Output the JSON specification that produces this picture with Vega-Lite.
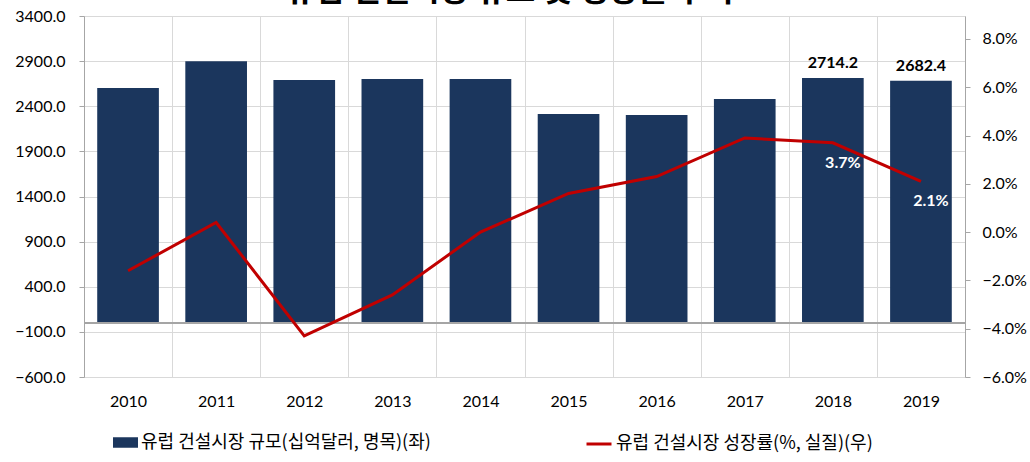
{
  "$schema": "https://vega.github.io/schema/vega-lite/v6.json",
  "width": 881,
  "height": 361,
  "autosize": {"type": "none"},
  "padding": {"left": 84, "top": 16, "right": 65, "bottom": 85},
  "background": "white",
  "title": {"text": "유럽 건설시장 규모 및 성장률 추이", "font": "Noto Sans CJK KR", "fontSize": 32, "fontWeight": "bold", "anchor": "middle", "dx": -15, "offset": 0, "color": "#000000"},
  "config": {
    "view": {"stroke": null},
    "axis": {"labelFont": "Lato", "labelFontSize": 16, "labelColor": "#000000"}
  },
  "data": {
    "values": [
      {"year": "2010", "size": 2602, "growth": -0.016},
      {"year": "2011", "size": 2900, "growth": 0.004},
      {"year": "2012", "size": 2690, "growth": -0.043},
      {"year": "2013", "size": 2702, "growth": -0.026},
      {"year": "2014", "size": 2702, "growth": 0.0},
      {"year": "2015", "size": 2314, "growth": 0.016},
      {"year": "2016", "size": 2303, "growth": 0.023},
      {"year": "2017", "size": 2481, "growth": 0.039},
      {"year": "2018", "size": 2714.2, "growth": 0.037},
      {"year": "2019", "size": 2682.4, "growth": 0.021}
    ]
  },
  "layer": [
    {
      "layer": [
        {
          "mark": {"type": "bar", "width": {"band": 0.7}},
          "encoding": {
            "x": {
              "field": "year", "type": "ordinal",
              "scale": {"paddingInner": 0, "paddingOuter": 0},
              "axis": {"orient": "bottom", "title": null, "labelAngle": 0, "domain": false, "ticks": false, "grid": true, "gridColor": "#d9d9d9", "tickBand": "extent", "labelPadding": 16}
            },
            "y": {
              "field": "size", "type": "quantitative",
              "scale": {"domain": [-600, 3400], "nice": false, "zero": false},
              "axis": {"orient": "left", "title": null, "values": [-600, -100, 400, 900, 1400, 1900, 2400, 2900, 3400], "format": ".1f", "grid": true, "gridColor": "#d9d9d9", "domainColor": "#a6a6a6", "tickColor": "#a6a6a6", "tickSize": 5, "labelPadding": 14}
            },
            "color": {
              "datum": "유럽 건설시장 규모(십억달러, 명목)(좌)",
              "scale": {"range": ["#1b365d"]},
              "legend": {"orient": "none", "legendX": 29, "legendY": 414, "direction": "horizontal", "title": null, "padding": 0, "symbolType": "M-1,-0.42H1V0.42H-1Z", "symbolSize": 625, "symbolStrokeWidth": 0, "labelFont": "Noto Sans CJK KR", "labelFontSize": 18, "labelColor": "#000000", "labelOffset": 3, "labelLimit": 600}
            }
          }
        },
        {
          "mark": {"type": "rule", "color": "#a6a6a6", "strokeWidth": 1},
          "encoding": {"y": {"datum": 0}}
        },
        {
          "transform": [{"filter": {"field": "year", "oneOf": ["2018", "2019"]}}],
          "mark": {"type": "text", "font": "Lato", "fontSize": 16, "fontWeight": "bold", "baseline": "bottom", "dy": -7, "color": "#000000"},
          "encoding": {
            "x": {"field": "year", "type": "ordinal"},
            "y": {"field": "size", "type": "quantitative"},
            "text": {"field": "size", "type": "quantitative", "format": ".1f"}
          }
        }
      ]
    },
    {
      "layer": [
        {
          "mark": {"type": "line", "strokeWidth": 3},
          "encoding": {
            "x": {"field": "year", "type": "ordinal"},
            "y": {
              "field": "growth", "type": "quantitative",
              "scale": {"domain": [-0.06, 0.0895], "nice": false, "zero": false},
              "axis": {"orient": "right", "title": null, "values": [-0.06, -0.04, -0.02, 0, 0.02, 0.04, 0.06, 0.08], "format": ".1%", "grid": false, "domainColor": "#a6a6a6", "tickColor": "#a6a6a6", "tickSize": 5, "labelPadding": 12}
            },
            "stroke": {
              "datum": "유럽 건설시장 성장률(%, 실질)(우)",
              "scale": {"range": ["#c00000"]},
              "legend": {"orient": "none", "legendX": 501, "legendY": 414, "direction": "horizontal", "title": null, "padding": 0, "symbolType": "stroke", "symbolSize": 625, "symbolStrokeWidth": 3, "labelFont": "Noto Sans CJK KR", "labelFontSize": 18, "labelColor": "#000000", "labelOffset": 3, "labelLimit": 600}
            }
          }
        },
        {
          "transform": [{"filter": {"field": "year", "oneOf": ["2018", "2019"]}}],
          "mark": {"type": "text", "font": "Lato", "fontSize": 16, "fontWeight": "bold", "color": "#ffffff", "dx": 10, "dy": 20},
          "encoding": {
            "x": {"field": "year", "type": "ordinal"},
            "y": {"field": "growth", "type": "quantitative"},
            "text": {"field": "growth", "type": "quantitative", "format": ".1%"}
          }
        }
      ]
    }
  ],
  "resolve": {"scale": {"y": "independent"}}
}
